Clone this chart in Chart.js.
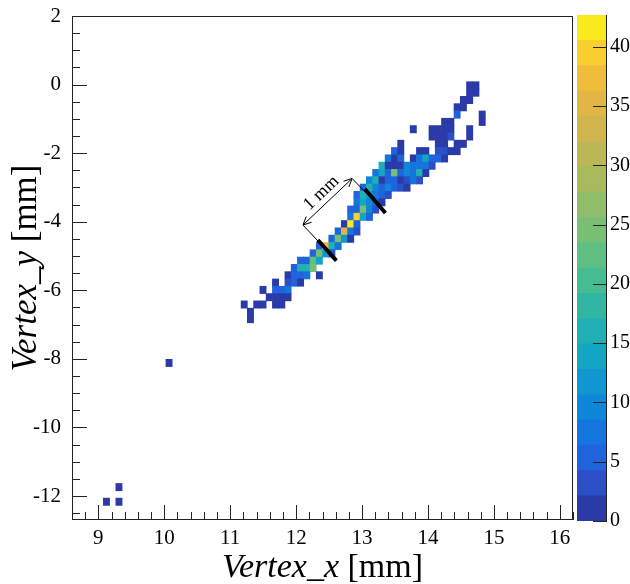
<!DOCTYPE html>
<html>
<head>
<meta charset="utf-8">
<script src="https://cdn.jsdelivr.net/npm/chart.js@4.4.1/dist/chart.umd.min.js"></script>
<style>
    html, body { margin: 0; padding: 0; background: #fff; overflow: hidden; }
    #wrap { position: relative; width: 630px; height: 584px; }
    #main { position: absolute; left: 0; top: 0; }
    #zbar { position: absolute; left: 560px; top: 0; }
</style>
</head>
<body>
<div id="wrap">
    <canvas id="main" width="630" height="584"></canvas>
    <canvas id="zbar" width="70" height="584"></canvas>
</div>
<script>
// histogram binning: [number of bins, low edge, high edge]
const xBinning = [80, 8.6, 16.2];
const yBinning = [69, -12.7, 2.0];

const xTicks = [9, 10, 11, 12, 13, 14, 15, 16];
const yTicks = [2, 0, -2, -4, -6, -8, -10, -12];
const zTicks = [0, 5, 10, 15, 20, 25, 30, 35, 40];
const zMax = 42.7;
const zLevels = 20;

// one row of cells per entry: y bin, first x bin, counts of consecutive x bins (0 = empty)
const rowBinY = [59, 58, 57, 56, 55, 54, 53, 52, 51, 50, 49, 48, 47, 46, 45, 44, 43, 42, 41, 40,
    39, 38, 37, 36, 35, 34, 33, 32, 31, 30, 29, 28, 27, 21, 4, 2];
const rowFirstBinX = [63, 63, 62, 61, 61, 59, 54, 57, 52, 51, 50, 49, 48, 47, 46, 45, 45, 44, 44, 43,
    42, 41, 39, 38, 36, 35, 34, 32, 30, 31, 27, 28, 28, 15, 7, 5];
const rowCounts = [
    [1, 1],
    [1, 1],
    [1, 1],
    [1, 1],
    [5, 0, 0, 0, 1],
    [1, 1, 0, 0, 0, 0, 1],
    [1, 0, 0, 1, 1, 1, 1, 0, 0, 1],
    [1, 1, 1, 3, 0, 0, 1],
    [1, 0, 0, 0, 0, 0, 1, 1, 0, 1, 1],
    [5, 1, 0, 0, 1, 1, 0, 3, 3, 1, 1],
    [7, 1, 5, 0, 1, 7, 14, 5, 5, 1],
    [16, 1, 1, 1, 10, 7, 7, 7, 3],
    [7, 14, 5, 25, 5, 10, 7, 16, 1],
    [10, 16, 1, 5, 5, 1, 3, 7, 3],
    [5, 16, 10, 5, 10, 5, 3, 1],
    [5, 16, 12, 7, 5, 3],
    [7, 14, 10, 5, 1],
    [5, 5, 25, 10, 3],
    [7, 39, 14, 5],
    [1, 41, 5],
    [5, 35, 7, 3],
    [5, 25, 12, 1],
    [5, 37, 16, 7],
    [5, 25, 12, 3],
    [5, 5, 22, 14],
    [5, 16, 16, 25],
    [1, 5, 5, 7, 0, 1],
    [1, 0, 3, 5, 1],
    [1, 0, 5, 5, 7],
    [1, 1, 1, 1],
    [1, 0, 1, 1, 0, 1, 1],
    [1],
    [1],
    [1],
    [1],
    [1, 0, 1],
];

// "1 mm" scale mark, in mm
const scaleArrow = [[12.104, -4.096], [12.849, -2.740]];
const scaleTicks = [
    [[12.849, -2.740], [13.354, -3.746]],
    [[12.104, -4.096], [12.610, -5.137]],
];
const scaleBars = [
    [[13.043, -3.046], [13.354, -3.746]],
    [[12.329, -4.533], [12.610, -5.137]],
];
const scaleLabel = ['1 mm', 12.382, -3.162];

const xTitle = [['Vertex_x', true], [' [mm]', false]];
const yTitle = [['Vertex_y', true], [' [mm]', false]];

const palette = ['#2a3ba8', '#2b4fc6', '#1f64dc', '#1475dd', '#0f87d8', '#1197d0', '#14a5c4', '#20afb4',
    '#30b7a4', '#46bc92', '#5fbe82', '#78be74', '#90bd68', '#a8ba5e', '#bdb656', '#d0b44e',
    '#e2b644', '#f0bd3a', '#f8cf2e', '#f9ea1e'];

const SERIF = '"Liberation Serif", "Times New Roman", serif';
Chart.defaults.font.family = SERIF;
Chart.defaults.color = '#000';

function colorFor(n) {
    const band = Math.min(zLevels - 1, Math.floor(n / (zMax / zLevels)));
    return palette[band];
}

const xW = (xBinning[2] - xBinning[1]) / xBinning[0];
const yW = (yBinning[2] - yBinning[1]) / yBinning[0];
const cells = [];

rowBinY.forEach((ky, i) => {
    rowCounts[i].forEach((n, j) => {
        if (!n) {
            return;
        }
        const kx = rowFirstBinX[i] + j;
        cells.push({
            x: xBinning[1] + (kx + 0.5) * xW,
            y: [yBinning[1] + ky * yW, yBinning[1] + (ky + 1) * yW],
            n,
        });
    });
});

function tickRange(first, step, min, max) {
    const out = [];
    const i0 = Math.ceil((min - first) / step - 1e-9);
    const i1 = Math.floor((max - first) / step + 1e-9);
    for (let i = i0; i <= i1; i++) {
        out.push([first + i * step, i]);
    }
    return out;
}

function drawMixed(ctx, parts, cx, baseline, size) {
    const fonts = parts.map(([, italic]) => (italic ? 'italic ' : '') + size + 'px ' + SERIF);
    const widths = parts.map(([text], i) => {
        ctx.font = fonts[i];
        return ctx.measureText(text).width;
    });
    let x = cx - widths.reduce((a, b) => a + b, 0) / 2;
    ctx.textAlign = 'left';
    ctx.textBaseline = 'alphabetic';
    parts.forEach(([text], i) => {
        ctx.font = fonts[i];
        ctx.fillText(text, x, baseline);
        x += widths[i];
    });
}

function noLabelPadding(s) {
    s.paddingTop = 0;
    s.paddingBottom = 0;
    s.paddingLeft = 0;
    s.paddingRight = 0;
}

const framePlugin = {
    id: 'frame',
    afterDraw(chart) {
        const {ctx, chartArea: a, scales: {x, y}} = chart;
        ctx.save();
        ctx.strokeStyle = '#222';
        ctx.lineWidth = 1;
        ctx.strokeRect(a.left + 0.5, a.top + 0.5, a.right - a.left - 1, a.bottom - a.top - 1);

        ctx.beginPath();
        tickRange(xTicks[0], 0.2, x.min, x.max).forEach(([v, i]) => {
            const px = Math.round(x.getPixelForValue(v)) + 0.5;
            const len = i % 5 === 0 ? 15 : 8;
            ctx.moveTo(px, a.bottom);
            ctx.lineTo(px, a.bottom - len);
        });
        tickRange(yTicks[yTicks.length - 1], 0.5, y.min, y.max).forEach(([v, i]) => {
            const py = Math.round(y.getPixelForValue(v)) + 0.5;
            const len = i % 4 === 0 ? 15 : 8;
            ctx.moveTo(a.left, py);
            ctx.lineTo(a.left + len, py);
        });
        ctx.stroke();

        ctx.fillStyle = '#000';
        drawMixed(ctx, xTitle, (a.left + a.right) / 2, 577, 34);
        ctx.translate(36, (a.top + a.bottom) / 2);
        ctx.rotate(-Math.PI / 2);
        drawMixed(ctx, yTitle, 0, 0, 35);
        ctx.restore();
    },
};

function arrowHead(ctx, from, to, size) {
    const ang = Math.atan2(to[1] - from[1], to[0] - from[0]);
    ctx.moveTo(to[0] - size * Math.cos(ang - 0.45), to[1] - size * Math.sin(ang - 0.45));
    ctx.lineTo(to[0], to[1]);
    ctx.lineTo(to[0] - size * Math.cos(ang + 0.45), to[1] - size * Math.sin(ang + 0.45));
}

const scaleMarkPlugin = {
    id: 'scaleMark',
    afterDatasetsDraw(chart) {
        const {ctx, scales: {x, y}} = chart;
        const p = ([vx, vy]) => [x.getPixelForValue(vx), y.getPixelForValue(vy)];
        ctx.save();
        ctx.strokeStyle = '#000';
        ctx.lineCap = 'butt';

        ctx.lineWidth = 1;
        ctx.beginPath();
        scaleTicks.forEach(([a, b]) => {
            ctx.moveTo(...p(a));
            ctx.lineTo(...p(b));
        });
        const a0 = p(scaleArrow[0]);
        const a1 = p(scaleArrow[1]);
        ctx.moveTo(...a0);
        ctx.lineTo(...a1);
        arrowHead(ctx, a0, a1, 9);
        arrowHead(ctx, a1, a0, 9);
        ctx.stroke();

        ctx.lineWidth = 4;
        ctx.beginPath();
        scaleBars.forEach(([a, b]) => {
            ctx.moveTo(...p(a));
            ctx.lineTo(...p(b));
        });
        ctx.stroke();

        const [text, tx, ty] = scaleLabel;
        const ang = Math.atan2(a1[1] - a0[1], a1[0] - a0[0]);
        ctx.translate(...p([tx, ty]));
        ctx.rotate(ang);
        ctx.fillStyle = '#000';
        ctx.font = '18px ' + SERIF;
        ctx.textAlign = 'center';
        ctx.textBaseline = 'middle';
        ctx.fillText(text, 0, 0);
        ctx.restore();
    },
};

new Chart(document.getElementById('main'), {
    type: 'bar',
    data: {
        datasets: [{
            data: cells,
            backgroundColor: (c) => (c.raw ? colorFor(c.raw.n) : palette[0]),
            borderWidth: 0,
            categoryPercentage: 1,
            barPercentage: 1,
        }],
    },
    options: {
        responsive: false,
        animation: false,
        layout: {padding: {left: 0, top: 16, right: 57, bottom: 0}},
        plugins: {legend: {display: false}, tooltip: {enabled: false}},
        scales: {
            x: {
                type: 'linear',
                min: xBinning[1],
                max: xBinning[2],
                offset: false,
                grid: {display: false, offset: false, drawTicks: false},
                border: {display: false},
                afterBuildTicks: (s) => { s.ticks = xTicks.map((v) => ({value: v})); },
                afterFit: (s) => { s.height = 64; noLabelPadding(s); },
                ticks: {font: {size: 21}, padding: 6, maxRotation: 0, autoSkip: false},
            },
            y: {
                type: 'linear',
                min: yBinning[1],
                max: yBinning[2],
                grid: {display: false, drawTicks: false},
                border: {display: false},
                afterBuildTicks: (s) => { s.ticks = yTicks.map((v) => ({value: v})); },
                afterFit: (s) => { s.width = 72; noLabelPadding(s); },
                ticks: {font: {size: 21}, padding: 11, autoSkip: false},
            },
        },
    },
    plugins: [framePlugin, scaleMarkPlugin],
});

const zTickPlugin = {
    id: 'zTicks',
    afterDraw(chart) {
        const {ctx, chartArea: a, scales: {y}} = chart;
        ctx.save();
        ctx.strokeStyle = '#222';
        ctx.lineWidth = 1;
        ctx.beginPath();
        zTicks.forEach((v) => {
            const py = Math.round(y.getPixelForValue(v)) + 0.5;
            ctx.moveTo(a.right, py);
            ctx.lineTo(a.right - 13, py);
        });
        ctx.stroke();
        ctx.restore();
    },
};

new Chart(document.getElementById('zbar'), {
    type: 'bar',
    data: {
        labels: ['z'],
        datasets: palette.map((color) => ({
            data: [zMax / zLevels],
            backgroundColor: color,
            borderWidth: 0,
            categoryPercentage: 1,
            barPercentage: 1,
        })),
    },
    options: {
        responsive: false,
        animation: false,
        layout: {padding: {left: 17, top: 15, right: 0, bottom: 63}},
        plugins: {legend: {display: false}, tooltip: {enabled: false}},
        scales: {
            x: {stacked: true, display: false},
            y: {
                stacked: true,
                position: 'right',
                min: 0,
                max: zMax,
                grid: {display: false, drawTicks: false},
                border: {display: true, color: '#222'},
                afterBuildTicks: (s) => { s.ticks = zTicks.map((v) => ({value: v})); },
                afterFit: (s) => { s.width = 24; noLabelPadding(s); },
                ticks: {font: {size: 20}, padding: 4},
            },
        },
    },
    plugins: [zTickPlugin],
});
</script>
</body>
</html>
